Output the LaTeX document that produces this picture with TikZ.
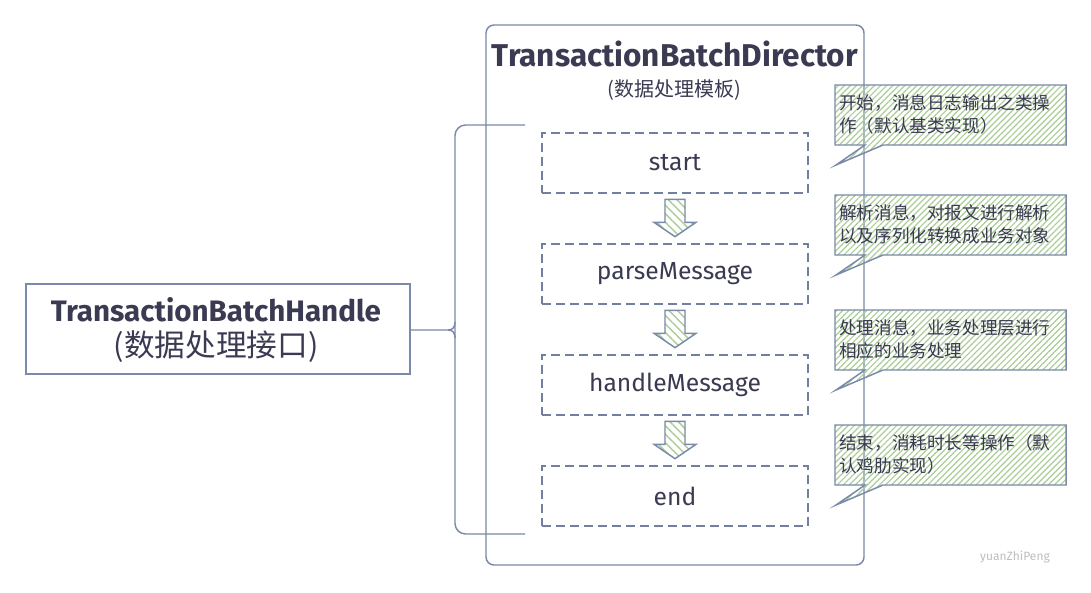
\documentclass[tikz,border=0pt]{standalone}
\usepackage{fontspec}
\usepackage{graphicx}
\setmainfont{Fira Sans}
\newfontfamily\cjk{Noto Sans CJK SC}
\usetikzlibrary{patterns.meta,calc}
\definecolor{linec}{RGB}{122,138,168}
\definecolor{dashc}{RGB}{112,128,158}
\definecolor{txtc}{RGB}{58,58,82}
\definecolor{hatchc}{RGB}{170,205,152}
\definecolor{wmc}{RGB}{190,190,190}
\tikzset{
  stepbox/.style={draw=dashc, line width=2pt, dash pattern=on 7pt off 3.5pt,
    minimum width=199.5pt, minimum height=45pt, inner sep=0pt,
    font=\fontsize{18.5}{21}\selectfont, text=txtc},
  plainline/.style={draw=linec, line width=1.1pt},
  callout/.style={draw=linec, line width=1.1pt,
    pattern={Lines[angle=45,distance=3.2pt,line width=0.9pt]}, pattern color=hatchc},
  callouttext/.style={anchor=north west, inner sep=0pt, text=txtc, align=left,
    font=\cjk\fontsize{13.2}{17.2}\selectfont},
  blockarrow/.style={draw=linec, line width=1.1pt, line join=miter,
    pattern={Lines[angle=-45,distance=4.5pt,line width=1.1pt]}, pattern color=hatchc},
}
\newcommand\mkblockarrow[2]{%
  \draw[blockarrow] ($(#1.south)+(-10,5)$) -- ($(#1.south)+(10,5)$) -- ($(#1.south)+(10,28)$)
    -- ($(#1.south)+(21,28)$) -- ($(#2.north)+(0,-6)$) -- ($(#1.south)+(-21,28)$)
    -- ($(#1.south)+(-10,28)$) -- cycle;}
\newcommand\mkcallout[2]{%
  \draw[callout] (835,#1) -- (1066,#1) -- (1066,#1+60) -- (883,#1+60) -- (836,#1+80)
    -- (865,#1+60) -- (835,#1+60) -- cycle;
  \node[callouttext] (#2) at (839,#1+9)}
\begin{document}
\begin{tikzpicture}[x=0.75pt,y=-0.75pt]
\useasboundingbox[fill=white] (0,0) rectangle (1091,592);
% container
\node[draw=linec, line width=1.1pt, rounded corners=6pt, minimum width=283.5pt,
  minimum height=405pt, inner sep=0pt] (dir) at (675,295) {};
\node[text=txtc, inner sep=0pt, anchor=base] (title) at (675,67)
  {\resizebox{274.5pt}{!}{\bfseries TransactionBatchDirector}};
\node[text=txtc, inner sep=0pt, anchor=base, font=\cjk\fontsize{15}{17}\selectfont] (subtitle) at (674,96)
  {(数据处理模板)};
% steps
\node[stepbox] (start) at (675,163) {start};
\node[stepbox] (parse) at (675,274) {parseMessage};
\node[stepbox] (handle) at (675,385) {handleMessage};
\node[stepbox] (end) at (675,496) {end};
\mkblockarrow{start}{parse}
\mkblockarrow{parse}{handle}
\mkblockarrow{handle}{end}
% left interface box
\node[draw=linec, line width=1.1pt, minimum width=288pt, minimum height=67.5pt,
  inner sep=0pt] (hb) at (218,329) {};
\node[text=txtc, inner sep=0pt, anchor=base] (hbt) at (216,321)
  {\resizebox{247.5pt}{!}{\bfseries TransactionBatchHandle}};
\node[text=txtc, inner sep=0pt, anchor=base, font=\cjk\fontsize{23}{26}\selectfont] (hbs) at (216,356)
  {(数据处理接口)};
% bracket
\coordinate (bt) at (525,125);
\coordinate (bb) at (525,534);
\coordinate (bm) at (455,330);
\draw[plainline, rounded corners=8pt] (bt) -- (455,125) -- (455,330) -- (455,534) -- (bb);
\draw[plainline] (hb.east |- bm) -- (448,330) .. controls (453,330) and (455,327) .. (455,322);
\draw[plainline] (448,330) .. controls (453,330) and (455,333) .. (455,338);
% callouts
\mkcallout{85}{c1}{开始，消息日志输出之类操\\作（默认基类实现）};
\mkcallout{195}{c2}{解析消息，对报文进行解析\\以及序列化转换成业务对象};
\mkcallout{310}{c3}{处理消息，业务处理层进行\\相应的业务处理};
\mkcallout{425}{c4}{结束，消耗时长等操作（默\\认鸡肋实现）};
% watermark
\node[text=wmc, inner sep=0pt, font=\fontsize{9}{10}\selectfont] (wm) at (1015,557) {yuanZhiPeng};
\end{tikzpicture}
\end{document}
